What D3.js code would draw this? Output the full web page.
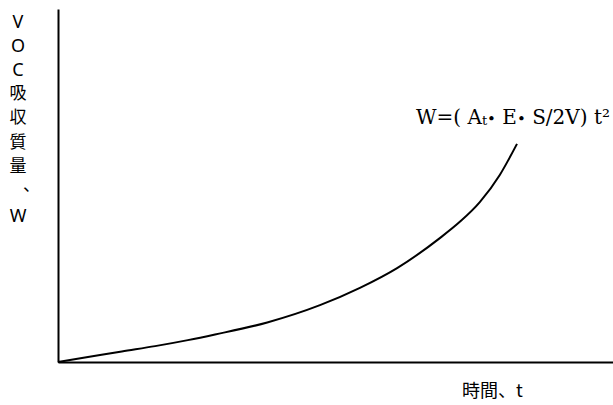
<!DOCTYPE html>
<html>
<head>
<meta charset="utf-8">
<script src="https://cdn.jsdelivr.net/npm/d3@7"></script>
<style>
  body { margin: 0; background: #fff; }
  svg { display: block; }
</style>
</head>
<body>
<svg id="chart"></svg>
<script>
// curve (t and W in axis percent)
const timeValues = [0, 5.4, 11.5, 17.5, 23.4, 28.3, 37.7, 47.2, 54.4, 61.1, 68.8, 72.4, 76.0, 79.6, 82.7];
const massValues = [0, 1.4, 3.0, 4.5, 6.2, 7.8, 11.2, 16.1, 21.0, 26.6, 35.1, 39.7, 45.3, 53.0, 61.8];
const yLabelChars = ["V", "O", "C", "吸", "収", "質", "量", "、", "W"];
const yLabelBaselines = [28, 52, 76, 99, 123, 148, 172, 191, 222];
const xLabel = "時間、t";

const width = 613, height = 405;
const margin = { top: 9, right: 0, bottom: 43, left: 58 };

const svg = d3.select("#chart")
    .attr("width", width)
    .attr("height", height);

const x = d3.scaleLinear()
    .domain([0, 100])
    .range([margin.left, width - margin.right]);

const y = d3.scaleLinear()
    .domain([0, 100])
    .range([height - margin.bottom, margin.top]);

// axes: just the bare lines
svg.append("g")
    .attr("transform", `translate(0,${y(0)})`)
    .call(d3.axisBottom(x).ticks(0).tickSizeOuter(0))
    .select(".domain")
    .attr("stroke", "#000")
    .attr("stroke-width", 2);

svg.append("g")
    .attr("transform", `translate(${x(0)},0)`)
    .call(d3.axisLeft(y).ticks(0).tickSizeOuter(0))
    .select(".domain")
    .attr("stroke", "#000")
    .attr("stroke-width", 2);

const points = timeValues.map((t, i) => ({ t: t, w: massValues[i] }));

svg.append("path")
    .datum(points)
    .attr("fill", "none")
    .attr("stroke", "#000")
    .attr("stroke-width", 2)
    .attr("d", d3.line()
        .x(d => x(d.t))
        .y(d => y(d.w))
        .curve(d3.curveMonotoneX));

// vertical y label, one character per line
const isLatin = c => /[A-Z]/.test(c);
svg.selectAll(".ylab")
    .data(yLabelChars)
    .join("text")
    .attr("class", "ylab")
    .attr("x", d => d === "、" ? 23 : 18)
    .attr("y", (d, i) => yLabelBaselines[i])
    .attr("text-anchor", d => d === "、" ? "start" : "middle")
    .attr("font-family", d => isLatin(d) ? "'Noto Sans', sans-serif" : "'Noto Sans CJK JP', sans-serif")
    .attr("font-size", d => isLatin(d) ? 18 : 17)
    .attr("fill", "#000")
    .text(d => d);

svg.append("text")
    .attr("x", 462)
    .attr("y", 397)
    .attr("font-family", "'Noto Sans CJK JP', 'Noto Sans', sans-serif")
    .attr("font-size", 18)
    .attr("fill", "#000")
    .text(xLabel);

// formula label, right edge nearly on the page edge
const formula = svg.append("text")
    .attr("x", 610)
    .attr("y", 124)
    .attr("text-anchor", "end")
    .attr("font-family", "'DejaVu Serif', 'Liberation Serif', serif")
    .attr("font-size", 20)
    .attr("fill", "#000");
formula.append("tspan").text("W=( A");
formula.append("tspan").attr("font-size", 13).attr("dy", 1).text("t");
formula.append("tspan").attr("dy", -1).attr("font-size", 15).text("•");
formula.append("tspan").text(" E");
formula.append("tspan").attr("font-size", 15).text("•");
formula.append("tspan").text(" S/2V) t");
formula.append("tspan").text("²");
</script>
</body>
</html>
